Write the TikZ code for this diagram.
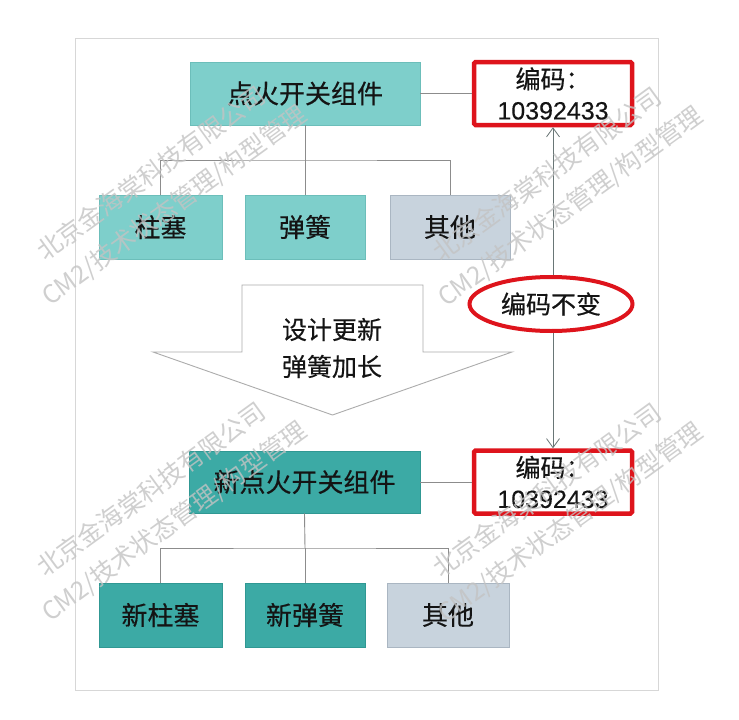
\documentclass[tikz,border=0pt]{standalone}
\usepackage{fontspec}
\newfontfamily\cjk[FakeBold=0.4]{Noto Sans CJK SC}
\newfontfamily\wmfont{Noto Sans CJK SC}
\newfontfamily\lat[FakeBold=0.3]{Liberation Sans}
\usetikzlibrary{arrows.meta,shapes.geometric}
\definecolor{tealA}{RGB}{126,207,203}
\definecolor{tealAd}{RGB}{108,190,186}
\definecolor{tealB}{RGB}{60,170,165}
\definecolor{tealBd}{RGB}{48,152,147}
\definecolor{greyBox}{RGB}{200,211,221}
\definecolor{greyBoxd}{RGB}{170,182,194}
\definecolor{redC}{RGB}{222,20,28}
\definecolor{lineC}{RGB}{140,140,140}
\definecolor{arrC}{RGB}{105,118,118}
\definecolor{frameC}{RGB}{215,215,215}
\definecolor{wmC}{RGB}{195,195,195}
\definecolor{txt}{RGB}{20,20,20}
\tikzset{
  box/.style={rectangle, inner sep=0pt, text=txt, font=\cjk\fontsize{26}{30}\selectfont},
  mainA/.style={box, fill=tealA, draw=tealAd, line width=0.8pt},
  mainB/.style={box, fill=tealB, draw=tealBd, line width=0.8pt},
  other/.style={box, fill=greyBox, draw=greyBoxd, line width=0.8pt},
  codebox/.style={rectangle, draw=redC, line width=4.5pt, rounded corners=1.5pt, fill=white,
    minimum width=158pt, minimum height=63pt, inner sep=0pt, align=center, text=txt,
    font=\cjk\fontsize{25}{31}\selectfont},
  tree/.style={draw=lineC, line width=0.9pt},
  linkarrow/.style={draw=arrC, line width=0.9pt, -{Straight Barb[length=9pt,width=13pt,line width=0.8pt]}},
  wm/.style={text=wmC, opacity=0.8, rotate=36, align=center, font=\wmfont\fontsize{25}{39}\selectfont}
}
\begin{document}
\begin{tikzpicture}[x=1pt,y=-1pt]
\useasboundingbox (0,0) rectangle (739,720);
\fill[white] (0,0) rectangle (739,720);
\draw[frameC, line width=1pt] (75.5,38.5) rectangle (658,690.5);

% top group
\node[mainA, minimum width=230pt, minimum height=63pt] (m1) at (305,93.5) {点火开关组件};
\node[codebox] (k1) at (553,93.5) {编码：\\{\lat 10392433}};
\node[mainA, minimum width=123pt, minimum height=64pt] (a1) at (160.5,227) {柱塞};
\node[mainA, minimum width=120pt, minimum height=64pt] (a2) at (305,227) {弹簧};
\node[other, minimum width=120pt, minimum height=64pt] (a3) at (450,227) {其他};
\coordinate (j1) at (305,160);
\draw[tree] (m1.east) -- (k1.west);
\draw[tree] (m1.south) -- (j1);
\draw[tree] (a1.north) |- (j1) -| (a3.north);
\draw[tree] (j1) -- (a2.north);

% ellipse
\node[ellipse, draw=redC, line width=4pt, fill=white, minimum width=163pt, minimum height=54pt,
  inner sep=0pt, text=txt, font=\cjk\fontsize{25}{30}\selectfont] (e) at (551,304) {编码不变};

% big down arrow
\draw[draw=frameC!80!black, line width=0.9pt, fill=white]
  (242,285) -- (423,285) -- (423,352) -- (512,352) -- (332.5,415) -- (153,352) -- (242,352) -- cycle;
\node[align=center, text=txt, font=\cjk\fontsize{25}{37}\selectfont] (t) at (332,348) {设计更新\\弹簧加长};

% bottom group
\node[mainB, minimum width=231pt, minimum height=62pt] (m2) at (304.5,482) {新点火开关组件};
\node[codebox] (k2) at (553,482) {编码：\\{\lat 10392433}};
\node[mainB, minimum width=123pt, minimum height=64pt] (b1) at (160.5,615) {新柱塞};
\node[mainB, minimum width=120pt, minimum height=64pt] (b2) at (305,615) {新弹簧};
\node[other, minimum width=122pt, minimum height=64pt] (b3) at (448,615) {其他};
\coordinate (j2) at (305,548);
\draw[tree] (m2.east) -- (k2.west);
\draw[tree] (m2.south) -- (j2);
\draw[tree] (b1.north) |- (j2) -| (b3.north);
\draw[tree] (j2) -- (b2.north);

% code arrows
\draw[linkarrow] (e.north -| k1.south) -- (k1.south);
\draw[linkarrow] (e.south -| k2.north) -- (k2.north);

% watermarks
\node[wm] (w1) at (163,190) {北京金海棠科技有限公司\\CM2/技术状态管理/构型管理};
\node[wm] (w2) at (559,191) {北京金海棠科技有限公司\\CM2/技术状态管理/构型管理};
\node[wm] (w3) at (163,506) {北京金海棠科技有限公司\\CM2/技术状态管理/构型管理};
\node[wm] (w4) at (559,507) {北京金海棠科技有限公司\\CM2/技术状态管理/构型管理};
\end{tikzpicture}
\end{document}
